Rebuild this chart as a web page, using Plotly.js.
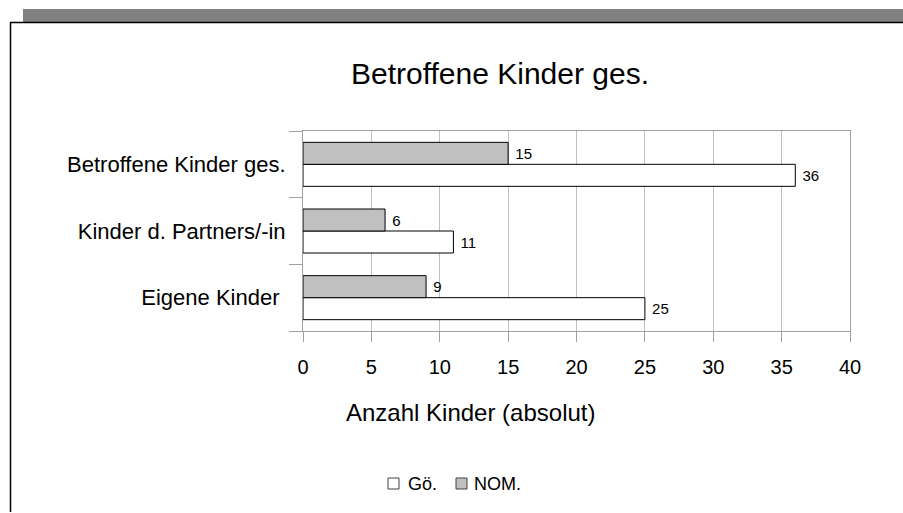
<!DOCTYPE html>
<html>
<head>
<meta charset="utf-8">
<script src="https://cdn.plot.ly/plotly-3.0.1.min.js"></script>
<style>html,body{margin:0;padding:0;background:#fff;}#chart{width:903px;height:513px;}</style>
</head>
<body>
<div id="chart"></div>
<script>
const categories = ["Eigene Kinder ", "Kinder d. Partners/-in", "Betroffene Kinder ges."];
const goValues = [25, 11, 36];
const nomValues = [9, 6, 15];
const seriesNames = ["Gö.", "NOM."];
const seriesColors = ["#ffffff", "#c0c0c0"];
const chartTitle = "Betroffene Kinder ges.";
const xAxisTitle = "Anzahl Kinder (absolut)";

const font = "Liberation Sans, Arial, sans-serif";

const traces = [
  {
    type: "bar", orientation: "h", name: seriesNames[0],
    y: categories, x: goValues,
    marker: {color: seriesColors[0], line: {color: "#000000", width: 1}},
    texttemplate: " %{x}", textposition: "outside",
    textfont: {family: font, size: 15, color: "#000"},
    cliponaxis: false, showlegend: false
  },
  {
    type: "bar", orientation: "h", name: seriesNames[1],
    y: categories, x: nomValues,
    marker: {color: seriesColors[1], line: {color: "#000000", width: 1}},
    texttemplate: " %{x}", textposition: "outside",
    textfont: {family: font, size: 15, color: "#000"},
    cliponaxis: false, showlegend: false
  }
];

const L = 303, R = 850, T = 131, B = 331;
const px2x = p => (p - L) / (R - L);
const px2y = p => (B - p) / (B - T);

// legend drawn as shapes + text
const legendItems = [
  {sq: [388, 399], tx: 406, name: seriesNames[0], color: seriesColors[0]},
  {sq: [456, 467], tx: 472, name: seriesNames[1], color: seriesColors[1]}
];
const legendShapes = legendItems.map(it => ({
  type: "rect", xref: "paper", yref: "paper",
  x0: px2x(it.sq[0]), x1: px2x(it.sq[1]), y0: px2y(489), y1: px2y(478),
  fillcolor: it.color, line: {color: "#404040", width: 1}
}));
const legendTexts = legendItems.map(it => ({
  text: it.name, xref: "paper", yref: "paper", x: px2x(it.tx), y: px2y(484),
  xanchor: "left", yanchor: "middle", showarrow: false,
  font: {family: font, size: 18, color: "#000"}
}));

const layout = {
  width: 903, height: 513,
  margin: {l: L, r: 903 - R, t: T, b: 513 - B, pad: 0},
  paper_bgcolor: "#fff", plot_bgcolor: "#fff",
  font: {family: font, color: "#000"},
  barmode: "group", bargap: 0.34, bargroupgap: 0,
  showlegend: false,
  xaxis: {
    range: [0, 40], dtick: 5, tick0: 0,
    showgrid: true, gridcolor: "#c0c0c0", gridwidth: 1,
    showline: true, linecolor: "#a0a0a0", linewidth: 1, mirror: true,
    ticks: "outside", ticklen: 10, tickcolor: "#a0a0a0",
    tickfont: {family: font, size: 20}, ticklabelstandoff: 8,
    zeroline: false, fixedrange: true
  },
  yaxis: {
    type: "category", tickson: "boundaries",
    showgrid: false, showline: true, linecolor: "#a0a0a0", linewidth: 1, mirror: true,
    ticks: "outside", ticklen: 13, tickcolor: "#a0a0a0",
    tickfont: {family: font, size: 22}, ticklabelstandoff: 12, fixedrange: true
  },
  annotations: [
    {text: chartTitle, xref: "paper", yref: "paper", x: px2x(500), y: px2y(73),
     xanchor: "center", yanchor: "middle", showarrow: false,
     font: {family: font, size: 30, color: "#000"}},
    {text: xAxisTitle, xref: "paper", yref: "paper", x: px2x(470), y: px2y(412),
     xanchor: "center", yanchor: "middle", showarrow: false,
     font: {family: font, size: 24, color: "#000"}}
  ].concat(legendTexts),
  shapes: [
    {type: "rect", xref: "paper", yref: "paper", x0: px2x(23), x1: px2x(903), y0: px2y(22), y1: px2y(9),
     fillcolor: "#808080", line: {width: 0}, layer: "below"},
    {type: "line", xref: "paper", yref: "paper", x0: px2x(10), x1: px2x(903), y0: px2y(22.5), y1: px2y(22.5),
     line: {color: "#000", width: 1.5}},
    {type: "line", xref: "paper", yref: "paper", x0: px2x(10.5), x1: px2x(10.5), y0: px2y(22), y1: px2y(512),
     line: {color: "#000", width: 1.5}}
  ].concat(legendShapes)
};

Plotly.newPlot("chart", traces, layout, {displayModeBar: false, staticPlot: true});
</script>
</body>
</html>
